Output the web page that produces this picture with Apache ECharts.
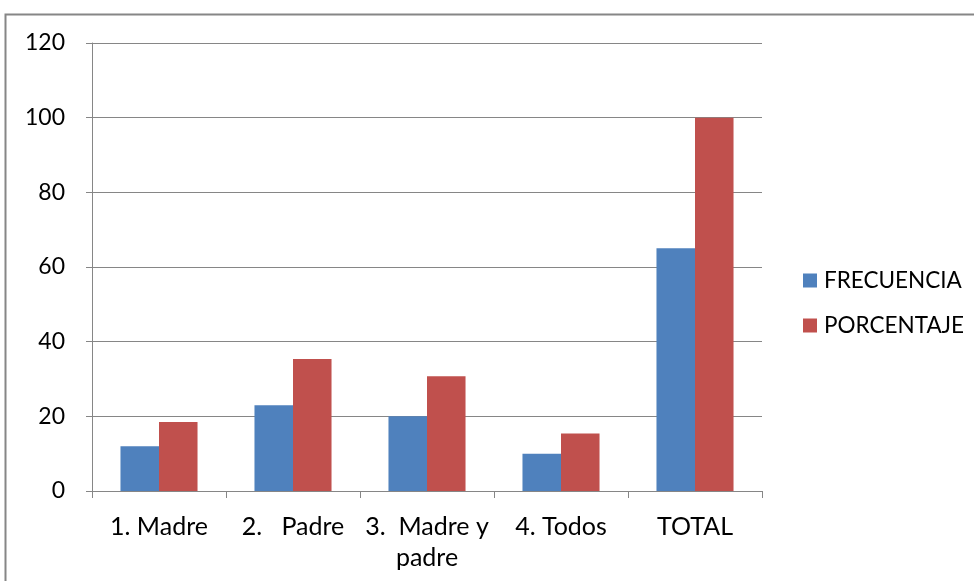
<!DOCTYPE html>
<html lang="es">
<head>
  <meta charset="UTF-8">
  <title>Frecuencia y porcentaje</title>
  <style>
    html, body { margin: 0; padding: 0; background: #fff; }
    #root { width: 974px; height: 581px; }
  </style>
</head>
<body>
  <div id="root"></div>
</body>
<script src="https://cdn.jsdelivr.net/npm/echarts@6/dist/echarts.min.js"></script>
<script>
  // datos
  const categorias = ['1. Madre', '2.   Padre', '3.  Madre y\npadre', '4. Todos', 'TOTAL']
  const frecuencia = [12, 23, 20, 10, 65]
  const porcentaje = [18.46, 35.38, 30.77, 15.38, 100]
  const ticksY = { min: 0, max: 120, interval: 20 }

  const fuente = "Lato, 'Open Sans', sans-serif"
  const gris = '#868686'

  let myChart = echarts.init(document.getElementById('root'))

  let option = {
    backgroundColor: '#fff',
    animation: false,
    textStyle: { fontFamily: fuente },
    graphic: [{
      type: 'rect',
      shape: { x: 5.5, y: 14.5, width: 1000, height: 600 },
      style: { fill: 'none', stroke: gris, lineWidth: 2 }
    }],
    grid: { left: 92, top: 43, width: 670, height: 448 },
    legend: {
      orient: 'vertical',
      left: 798,
      top: 264,
      itemWidth: 14,
      itemHeight: 14,
      itemGap: 22,
      icon: 'rect',
      textStyle: { fontSize: 22.5, color: '#000', fontFamily: fuente, padding: [0, 0, 0, 2] }
    },
    xAxis: {
      type: 'category',
      data: categorias,
      axisLine: { lineStyle: { color: gris, width: 1 } },
      axisTick: { show: true, length: 7, lineStyle: { color: gris } },
      axisLabel: { color: '#000', fontSize: 25, margin: 20, lineHeight: 31, interval: 0, fontFamily: fuente }
    },
    yAxis: {
      type: 'value',
      min: ticksY.min,
      max: ticksY.max,
      interval: ticksY.interval,
      axisLine: { show: true, lineStyle: { color: gris, width: 1 } },
      axisTick: { show: true, length: 6, lineStyle: { color: gris } },
      splitLine: { lineStyle: { color: gris, width: 1 } },
      axisLabel: { color: '#000', fontSize: 23, margin: 27, fontFamily: fuente }
    },
    series: [
      {
        name: 'FRECUENCIA',
        type: 'bar',
        data: frecuencia,
        barGap: '0%',
        barCategoryGap: '42.5%',
        itemStyle: { color: '#4F81BD' }
      },
      {
        name: 'PORCENTAJE',
        type: 'bar',
        data: porcentaje,
        itemStyle: { color: '#C0504D' }
      }
    ]
  }

  myChart.setOption(option)
</script>
</html>
